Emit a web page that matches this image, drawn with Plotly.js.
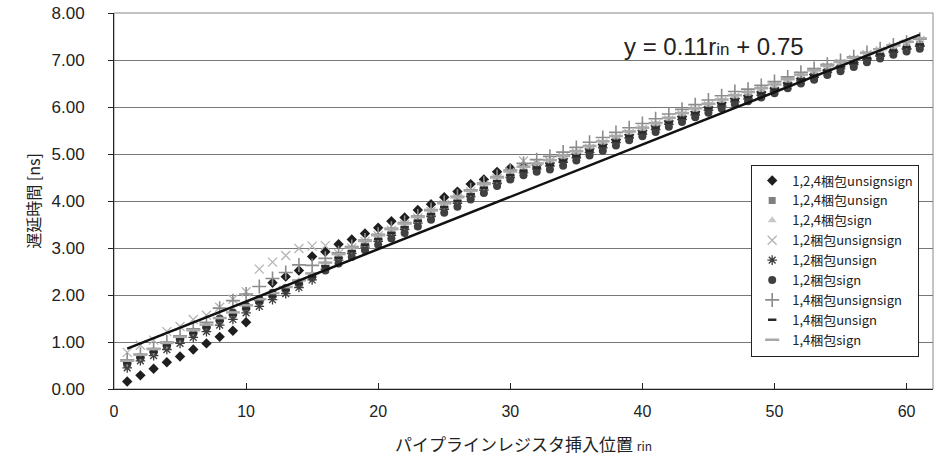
<!DOCTYPE html>
<html>
<head>
<meta charset="utf-8">
<script src="https://cdn.plot.ly/plotly-3.0.1.min.js"></script>
<style>html,body{margin:0;padding:0;background:#fff;}#chart{width:946px;height:471px;}</style>
</head>
<body>
<div id="chart"></div>
<script>
const rin = [];
for (let i = 1; i <= 61; i++) rin.push(i);

const seriesNames = [
  "1,2,4梱包unsignsign", "1,2,4梱包unsign", "1,2,4梱包sign",
  "1,2梱包unsignsign", "1,2梱包unsign", "1,2梱包sign",
  "1,4梱包unsignsign", "1,4梱包unsign", "1,4梱包sign"
];

const s124_unsignsign = [0.16,0.29,0.43,0.57,0.69,0.84,0.97,1.11,1.24,1.42, 1.88,2.26,2.39,2.52,2.82,2.92,3.08,3.18,3.31,3.43, 3.57,3.65,3.81,3.93,4.08,4.20,4.36,4.46,4.62,4.70, 4.74,4.76,4.81,4.90,5.00,5.11,5.21,5.31,5.41,5.50, 5.60,5.70,5.80,5.90,6.00,6.09,6.18,6.24,6.32,6.40, 6.51,6.60,6.69,6.78,6.86,6.94,7.03,7.10,7.18,7.24,7.30];
const s124_unsign = [0.55,0.68,0.80,0.93,1.06,1.20,1.32,1.46,1.58,1.72, 1.85,1.98,2.11,2.24,2.40,2.62,2.80,2.94,3.08,3.20, 3.33,3.45,3.59,3.73,3.88,4.01,4.15,4.29,4.43,4.56, 4.65,4.72,4.78,4.87,4.97,5.08,5.18,5.29,5.39,5.47, 5.57,5.68,5.78,5.88,5.98,6.07,6.16,6.22,6.30,6.38, 6.50,6.60,6.68,6.78,6.86,6.95,7.05,7.13,7.21,7.28,7.35];
const s124_sign = [0.58,0.71,0.83,0.97,1.10,1.24,1.36,1.50,1.62,1.77, 1.90,2.03,2.16,2.30,2.45,2.68,2.86,3.00,3.13,3.26, 3.39,3.51,3.65,3.79,3.93,4.07,4.21,4.35,4.49,4.62, 4.72,4.79,4.86,4.95,5.05,5.16,5.26,5.37,5.47,5.55, 5.65,5.76,5.86,5.96,6.06,6.15,6.24,6.31,6.39,6.47, 6.58,6.68,6.77,6.87,6.95,7.04,7.14,7.22,7.30,7.37,7.44];
const s12_unsignsign = [0.78,0.93,1.04,1.22,1.33,1.48,1.57,1.74,1.91,2.07, 2.55,2.70,2.84,2.99,3.04,3.05,2.88,3.00,3.14,3.26, 3.38,3.50,3.64,3.78,3.92,4.06,4.20,4.34,4.48,4.62, 4.85,4.80,4.84,4.92,5.02,5.12,5.22,5.33,5.43,5.52, 5.62,5.72,5.83,5.93,6.03,6.12,6.21,6.28,6.36,6.44, 6.56,6.66,6.74,6.84,6.92,7.01,7.11,7.19,7.27,7.34,7.41];
const s12_unsign = [0.45,0.60,0.71,0.84,0.97,1.10,1.22,1.36,1.48,1.62, 1.76,1.90,2.03,2.16,2.32,2.55,2.74,2.88,3.02,3.14, 3.27,3.39,3.53,3.67,3.82,3.95,4.09,4.23,4.37,4.50, 4.60,4.68,4.74,4.82,4.92,5.03,5.13,5.24,5.34,5.42, 5.52,5.63,5.73,5.83,5.93,6.02,6.11,6.17,6.25,6.33, 6.45,6.55,6.63,6.73,6.81,6.90,7.00,7.08,7.16,7.23,7.29];
const s12_sign = [0.52,0.66,0.78,0.91,1.04,1.18,1.31,1.50,1.63,1.77, 1.92,2.05,2.15,2.26,2.38,2.52,2.67,2.81,2.95,3.07, 3.20,3.32,3.46,3.60,3.75,3.88,4.03,4.17,4.32,4.46, 4.55,4.62,4.67,4.75,4.86,4.97,5.07,5.18,5.29,5.38, 5.47,5.58,5.68,5.78,5.88,5.97,6.06,6.12,6.20,6.29, 6.40,6.50,6.58,6.68,6.76,6.85,6.95,7.03,7.11,7.18,7.24];
const s14_unsignsign = [0.62,0.74,0.86,1.00,1.13,1.28,1.42,1.72,1.88,2.02, 2.18,2.35,2.48,2.64,2.63,2.78,2.90,3.03,3.17,3.29, 3.42,3.54,3.68,3.82,3.97,4.10,4.24,4.38,4.52,4.66, 4.80,4.88,4.95,5.04,5.14,5.25,5.35,5.46,5.56,5.65, 5.75,5.85,5.95,6.05,6.15,6.24,6.33,6.38,6.46,6.54, 6.64,6.74,6.82,6.91,6.99,7.07,7.16,7.24,7.32,7.38,7.44];
const s14_unsign = [0.55,0.67,0.79,0.93,1.06,1.19,1.31,1.45,1.58,1.71, 1.84,1.97,2.10,2.23,2.39,2.61,2.79,2.93,3.07,3.19, 3.32,3.44,3.58,3.72,3.87,4.00,4.14,4.28,4.42,4.55, 4.64,4.71,4.77,4.86,4.96,5.07,5.17,5.28,5.38,5.46, 5.56,5.67,5.77,5.87,5.97,6.06,6.15,6.21,6.29,6.37, 6.49,6.59,6.67,6.77,6.85,6.94,7.04,7.12,7.20,7.27,7.33];
const s14_sign = [0.60,0.73,0.85,0.98,1.11,1.25,1.37,1.51,1.63,1.78, 1.91,2.04,2.17,2.31,2.46,2.69,2.87,3.01,3.15,3.27, 3.40,3.52,3.66,3.80,3.95,4.08,4.22,4.36,4.50,4.63, 4.73,4.80,4.87,4.96,5.06,5.17,5.27,5.38,5.48,5.56, 5.66,5.77,5.87,5.97,6.07,6.16,6.25,6.32,6.40,6.48, 6.59,6.69,6.78,6.88,6.96,7.05,7.15,7.23,7.31,7.39,7.46];

const trendX = [1, 61];
const trendY = [0.86, 7.54];

const xTicks = [0, 10, 20, 30, 40, 50, 60];
const yTicks = [0, 1, 2, 3, 4, 5, 6, 7, 8];
const yTickLabels = ["0.00","1.00","2.00","3.00","4.00","5.00","6.00","7.00","8.00"];

const allY = [s124_unsignsign, s124_unsign, s124_sign, s12_unsignsign, s12_unsign, s12_sign, s14_unsignsign, s14_unsign, s14_sign];
const styles = [
  {symbol: "diamond", size: 8, color: "#1e1e1e"},
  {symbol: "square", size: 7, color: "#808080"},
  {symbol: "triangle-up", size: 8, color: "#c8c8c8"},
  {symbol: "x-thin-open", size: 9, color: "#b4b4b4", lw: 1.3},
  {symbol: "asterisk-open", size: 8, color: "#3c3c3c", lw: 1.3},
  {symbol: "circle", size: 8, color: "#404040"},
  {symbol: "cross-thin-open", size: 10, color: "#8c8c8c", lw: 1.6},
  {symbol: "line-ew-open", size: 6, color: "#2a2a2a", lw: 2.5},
  {symbol: "line-ew-open", size: 10, color: "#a8a8a8", lw: 2.5}
];

const traces = allY.map((ys, i) => {
  const st = styles[i];
  const m = {symbol: st.symbol, size: st.size, color: st.color};
  if (st.lw) m.line = {color: st.color, width: st.lw};
  else m.line = {width: 0};
  return {x: rin, y: ys, name: seriesNames[i], type: "scatter", mode: "markers", marker: m, cliponaxis: false};
});

traces.push({x: trendX, y: trendY, type: "scatter", mode: "lines", line: {color: "#111", width: 2.5}, showlegend: false, hoverinfo: "skip"});

const layout = {
  width: 946, height: 471,
  margin: {l: 114, r: 13, t: 13, b: 82},
  paper_bgcolor: "#fff", plot_bgcolor: "#fff",
  font: {family: "Liberation Sans, Arial, sans-serif", color: "#222"},
  showlegend: true,
  legend: {
    x: 0.778, y: 0.597, xanchor: "left", yanchor: "top",
    bgcolor: "#fff", bordercolor: "#222", borderwidth: 1,
    font: {family: "Noto Sans CJK JP, sans-serif", size: 13, color: "#222"},
    tracegroupgap: 0, itemwidth: 30
  },
  xaxis: {
    range: [0, 62], tickvals: xTicks, ticktext: xTicks.map(String),
    ticks: "inside", ticklen: 6, tickcolor: "#222",
    showgrid: false, zeroline: false, showline: true, linecolor: "#222", linewidth: 1,
    tickfont: {family: "Liberation Sans Narrow, Liberation Sans, sans-serif", size: 16, color: "#222"},
    ticklabelstandoff: 8,
    title: {text: "パイプラインレジスタ挿入位置 <span style=\"font-size:12px\">rin</span>", font: {family: "Noto Sans CJK JP, sans-serif", size: 17, color: "#222"}, standoff: 19}
  },
  yaxis: {
    range: [0, 8], tickvals: yTicks, ticktext: yTickLabels,
    ticks: "outside", ticklen: 5, tickcolor: "#222",
    showgrid: true, gridcolor: "#777", gridwidth: 1,
    zeroline: false, showline: true, linecolor: "#222", linewidth: 1,
    tickfont: {family: "Liberation Sans, Arial, sans-serif", size: 17, color: "#222"},
    ticklabelstandoff: 20,
    title: {text: "遅延時間 [ns]", font: {family: "Noto Sans CJK JP, sans-serif", size: 16, color: "#222"}, standoff: 6}
  },
  shapes: [
    {type: "rect", xref: "paper", yref: "paper", x0: 0, x1: 1, y0: 0, y1: 1, line: {color: "#888", width: 1}, layer: "below"}
  ],
  annotations: [
    {x: 0.62, y: 0.91, xref: "paper", yref: "paper", xanchor: "left", yanchor: "middle", showarrow: false,
     text: "y = 0.11r<span style=\"font-size:17px\">in</span> + 0.75",
     font: {family: "Liberation Sans, Arial, sans-serif", size: 24, color: "#222"}}
  ]
};

Plotly.newPlot("chart", traces, layout, {displayModeBar: false, staticPlot: true});
</script>
</body>
</html>
